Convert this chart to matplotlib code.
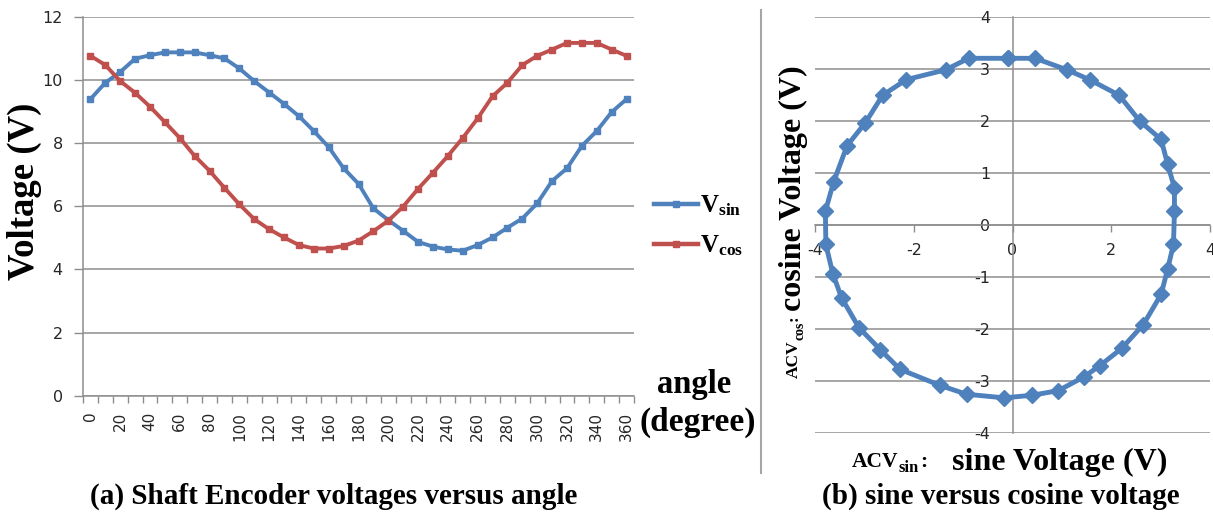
import matplotlib
matplotlib.use('Agg')
import matplotlib.pyplot as plt
from matplotlib.lines import Line2D

# ---------------- data ----------------
angles = list(range(0, 361, 10))
v_sin = [9.39, 9.91, 10.25, 10.67, 10.78, 10.87, 10.87, 10.87, 10.78, 10.68,
         10.36, 9.96, 9.60, 9.24, 8.85, 8.38, 7.87, 7.20, 6.71, 5.93,
         5.56, 5.22, 4.87, 4.72, 4.63, 4.59, 4.77, 5.01, 5.32, 5.61,
         6.09, 6.80, 7.20, 7.91, 8.38, 8.98, 9.39]
v_cos = [10.76, 10.47, 9.96, 9.59, 9.15, 8.66, 8.16, 7.59, 7.12, 6.58,
         6.06, 5.59, 5.27, 5.01, 4.77, 4.66, 4.66, 4.74, 4.91, 5.21,
         5.54, 5.99, 6.55, 7.06, 7.59, 8.16, 8.78, 9.48, 9.91, 10.47,
         10.76, 10.96, 11.17, 11.17, 11.17, 10.96, 10.76]
left_yticks = [0, 2, 4, 6, 8, 10, 12]
left_xlabels = list(range(0, 361, 20))

ac_sin = [-0.10, 0.46, 1.10, 1.56, 2.16, 2.58, 3.01, 3.14, 3.28, 3.28, 3.26,
          3.14, 3.01, 2.65, 2.21, 1.77, 1.44, 0.93, 0.40, -0.17, -0.93,
          -1.47, -2.28, -2.68, -3.11, -3.46, -3.64, -3.78, -3.79, -3.62,
          -3.35, -2.98, -2.63, -2.15, -1.35, -0.89, -0.10]
ac_cos = [3.20, 3.20, 2.98, 2.79, 2.49, 1.99, 1.64, 1.17, 0.71, 0.26, -0.38,
          -0.86, -1.34, -1.92, -2.38, -2.71, -2.93, -3.19, -3.28, -3.33, -3.26,
          -3.09, -2.78, -2.40, -1.98, -1.41, -0.94, -0.38, 0.26, 0.83,
          1.52, 1.96, 2.49, 2.79, 2.98, 3.20, 3.20]
right_xticks = [-4, -2, 0, 2, 4]
right_yticks = [-4, -3, -2, -1, 0, 1, 2, 3, 4]

# ---------------- style ----------------
W, H = 1213, 513
BLUE = '#4F81BD'
RED = '#C0504D'
GRID = '#8e8e8e'
TICKC = '#262626'
SERIF = 'Liberation Serif'
plt.rcParams['axes.unicode_minus'] = False
plt.rcParams['mathtext.fontset'] = 'custom'
plt.rcParams['mathtext.rm'] = 'Liberation Serif:bold'
plt.rcParams['mathtext.bf'] = 'Liberation Serif:bold'
plt.rcParams['mathtext.it'] = 'Liberation Serif:bold'

fig = plt.figure(figsize=(W / 100, H / 100), dpi=100)


def fx(x):
    return x / W


def fy(y):
    return 1 - y / H


# ---------------- left chart ----------------
ax1 = fig.add_axes([fx(83), fy(395.7), (634 - 83) / W, (395.7 - 16.7) / H])
ax1.plot(angles, v_sin, color=BLUE, lw=2.8, marker='s', ms=5, label=r'$\mathbf{V_{sin}}$', zorder=3)
ax1.plot(angles, v_cos, color=RED, lw=2.8, marker='s', ms=5, label=r'$\mathbf{V_{cos}}$', zorder=3)
ax1.set_xlim(-5, 365)
ax1.set_ylim(0, 12)
ax1.set_yticks(left_yticks)
ax1.set_xticks(left_xlabels)
ax1.set_xticklabels([str(a) for a in left_xlabels], rotation=90, fontsize=11,
                    color=TICKC, family='DejaVu Sans')
ax1.set_xticks([a - 5 for a in angles] + [365], minor=True)
ax1.tick_params(axis='x', which='major', length=0, pad=11.5)
ax1.tick_params(axis='x', which='minor', length=5, color=GRID, width=1)
ax1.tick_params(axis='y', length=6.5, color=GRID, width=1, pad=8, labelsize=11.5,
                labelcolor=TICKC)
for lab in ax1.get_xticklabels():
    lab.set_va('top')
ax1.grid(axis='y', color=GRID, lw=1.1)
ax1.set_axisbelow(True)
for s in ['top', 'right']:
    ax1.spines[s].set_visible(False)
for s in ['left', 'bottom']:
    ax1.spines[s].set_color(GRID)
    ax1.spines[s].set_linewidth(1.1)

leg = ax1.legend(loc='center left', bbox_to_anchor=(fx(654), fy(226)),
                 bbox_transform=fig.transFigure, frameon=False, fontsize=18,
                 handlelength=1.75, handletextpad=0.1, labelspacing=0.6,
                 borderpad=0, borderaxespad=0)
for h in leg.legend_handles:
    h.set_linewidth(3.2)

fig.text(fx(34), fy(191.5), 'Voltage (V)', rotation=90, rotation_mode='anchor',
         ha='center', va='baseline', fontsize=26.5, fontweight='bold', family=SERIF)
fig.text(fx(694), fy(393), 'angle', ha='center', va='baseline', fontsize=23.5,
         fontweight='bold', family=SERIF)
fig.text(fx(698), fy(431), '(degree)', ha='center', va='baseline', fontsize=24,
         fontweight='bold', family=SERIF)
fig.text(fx(334), fy(504), '(a) Shaft Encoder voltages versus angle', ha='center',
         va='baseline', fontsize=21, fontweight='bold', family=SERIF)

# ---------------- right chart ----------------
ax2 = fig.add_axes([fx(815), fy(432.7), (1210 - 815) / W, (432.7 - 16.7) / H])
ax2.plot(ac_sin, ac_cos, color=BLUE, lw=3.5, marker='D', ms=8.5, zorder=3)
ax2.set_xlim(-4, 4)
ax2.set_ylim(-4, 4)
ax2.set_xticks(right_xticks)
ax2.set_yticks(right_yticks)
ax2.grid(axis='y', color=GRID, lw=1.1)
ax2.set_axisbelow(True)
for s in ['top', 'right']:
    ax2.spines[s].set_visible(False)
ax2.spines['left'].set_position(('data', 0))
ax2.spines['bottom'].set_position(('data', 0))
for s in ['left', 'bottom']:
    ax2.spines[s].set_color(GRID)
    ax2.spines[s].set_linewidth(1.1)
ax2.tick_params(axis='x', length=5, color=GRID, width=1, pad=8.5, labelsize=11.5,
                labelcolor=TICKC)
ax2.tick_params(axis='y', length=0, pad=16, labelsize=11.5, labelcolor=TICKC)

fig.add_artist(Line2D([fx(761), fx(761)], [fy(10), fy(473)], transform=fig.transFigure,
                      color='#a6a6a6', lw=1.5))

fig.canvas.draw()
r = fig.canvas.get_renderer()

# horizontal axis label: ACV_sin:  sine Voltage (V)
kw = dict(fontweight='bold', family=SERIF, va='baseline', ha='left')
x = 852
t = fig.text(fx(x), fy(467), 'ACV', fontsize=15.5, **kw)
x += t.get_window_extent(r).width
t = fig.text(fx(x), fy(472), 'sin', fontsize=12, **kw)
x += t.get_window_extent(r).width + 1
fig.text(fx(x), fy(467), ':', fontsize=15.5, **kw)
fig.text(fx(952), fy(470), 'sine Voltage (V)', fontsize=23, **kw)

# vertical axis label: ACV_cos:  cosine Voltage (V)
kwr = dict(fontweight='bold', family=SERIF, va='baseline', ha='left', rotation=90,
           rotation_mode='anchor')
y = 378
t = fig.text(fx(798), fy(y), 'ACV', fontsize=12.5, **kwr)
y -= t.get_window_extent(r).height
t = fig.text(fx(803), fy(y), 'cos', fontsize=10, **kwr)
y -= t.get_window_extent(r).height + 1
t = fig.text(fx(798), fy(y), ':', fontsize=12.5, **kwr)
y -= t.get_window_extent(r).height + 4
fig.text(fx(801), fy(y), 'cosine Voltage (V)', fontsize=23, **kwr)

fig.text(fx(1001), fy(504), '(b) sine versus cosine voltage', ha='center',
         va='baseline', fontsize=21, fontweight='bold', family=SERIF)

fig.savefig('out.png', dpi=100)
